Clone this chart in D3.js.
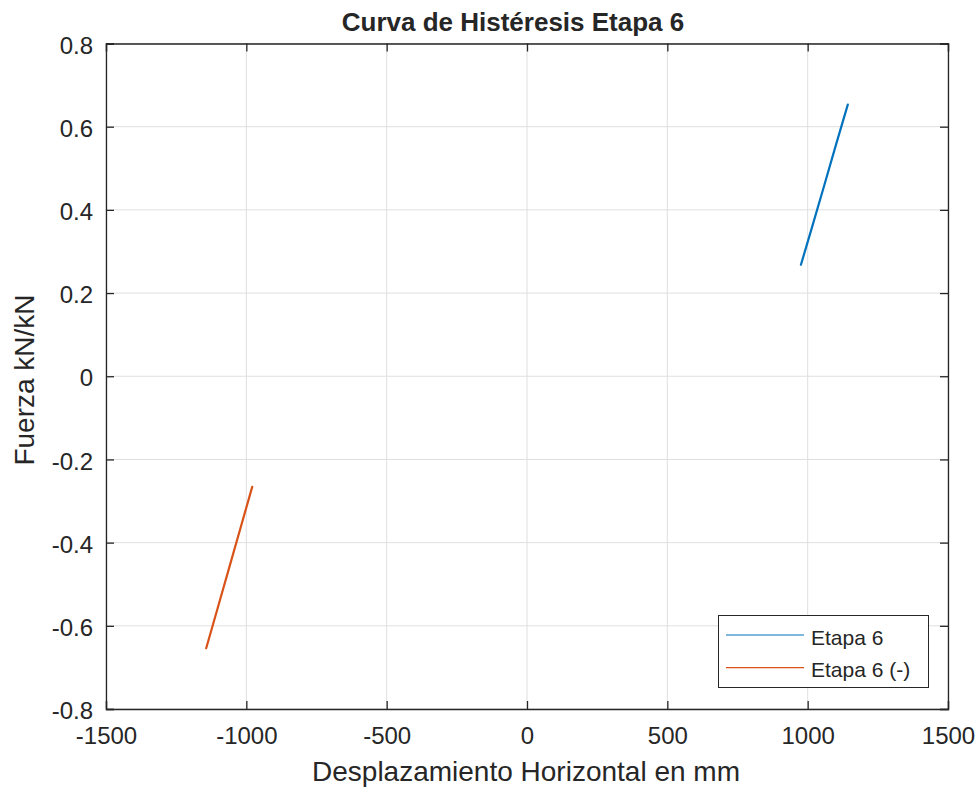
<!DOCTYPE html>
<html>
<head>
<meta charset="utf-8">
<script src="https://cdn.jsdelivr.net/npm/d3@7"></script>
<style>
  body { margin: 0; background: #fff; }
  svg { display: block; }
  text { font-family: "Liberation Sans", Arial, sans-serif; fill: #262626; }
</style>
</head>
<body>
<svg id="chart" width="980" height="791"></svg>
<script>
// ---- data ----
const seriesNames = ["Etapa 6", "Etapa 6 (-)"];
const etapa6X = [976, 1018, 1060, 1101, 1143];
const etapa6Y = [0.268, 0.364, 0.461, 0.557, 0.653];
const etapa6NegX = [-1143, -1102, -1061, -1020, -979];
const etapa6NegY = [-0.654, -0.557, -0.460, -0.363, -0.266];
const xTicks = [-1500, -1000, -500, 0, 500, 1000, 1500];
const xTickLabels = ["-1500", "-1000", "-500", "0", "500", "1000", "1500"];
const yTicks = [-0.8, -0.6, -0.4, -0.2, 0, 0.2, 0.4, 0.6, 0.8];
const yTickLabels = ["-0.8", "-0.6", "-0.4", "-0.2", "0", "0.2", "0.4", "0.6", "0.8"];
const colors = ["#0072BD", "#D95319"];

const svg = d3.select("#chart");
const L = 106, R = 948, T = 43.5, B = 709;
const x = d3.scaleLinear().domain([-1500, 1500]).range([L, R]);
const y = d3.scaleLinear().domain([-0.8, 0.8]).range([B, T]);
const axisColor = "#262626";
const font = "'Liberation Sans', Arial, sans-serif";

// grid
const g = svg.append("g");
g.selectAll(".gx").data(xTicks).enter().append("line")
  .attr("x1", d => x(d)).attr("x2", d => x(d)).attr("y1", T).attr("y2", B)
  .attr("stroke", "#dfdfdf").attr("stroke-width", 1);
g.selectAll(".gy").data(yTicks).enter().append("line")
  .attr("y1", d => y(d)).attr("y2", d => y(d)).attr("x1", L).attr("x2", R)
  .attr("stroke", "#dfdfdf").attr("stroke-width", 1);

// data lines
const line = d3.line().x(d => x(d[0])).y(d => y(d[1]));
const s1 = etapa6X.map((v, i) => [v, etapa6Y[i]]);
const s2 = etapa6NegX.map((v, i) => [v, etapa6NegY[i]]);
[s1, s2].forEach((s, i) => {
  svg.append("path").datum(s).attr("d", line)
    .attr("fill", "none").attr("stroke", colors[i]).attr("stroke-width", 2.2)
    .attr("stroke-linecap", "round");
});

// axes (ticks inward, box)
const tickLen = 8;
const axB = svg.append("g").attr("transform", `translate(0,${B})`)
  .call(d3.axisBottom(x).tickValues(xTicks).tickSize(-tickLen).tickPadding(0)
    .tickFormat((d, i) => xTickLabels[i]));
const axT = svg.append("g").attr("transform", `translate(0,${T})`)
  .call(d3.axisTop(x).tickValues(xTicks).tickSize(-tickLen).tickFormat(""));
const axL = svg.append("g").attr("transform", `translate(${L},0)`)
  .call(d3.axisLeft(y).tickValues(yTicks).tickSize(-tickLen).tickPadding(13)
    .tickFormat((d, i) => yTickLabels[i]));
const axR = svg.append("g").attr("transform", `translate(${R},0)`)
  .call(d3.axisRight(y).tickValues(yTicks).tickSize(-tickLen).tickFormat(""));
[axB, axT, axL, axR].forEach(a => {
  a.attr("font-size", null).attr("font-family", null);
  a.selectAll(".domain").attr("stroke", axisColor).attr("stroke-width", 1.3);
  a.selectAll(".tick line").attr("stroke", axisColor).attr("stroke-width", 1.3);
  a.selectAll("text").attr("fill", axisColor)
    .style("font-size", "24px").style("font-family", font);
});
axB.selectAll(".tick text").attr("y", 35).attr("dy", null);
axL.selectAll(".tick text").attr("dy", "0.4em");

// title and labels
svg.append("text").attr("x", (L + R) / 2 - 14).attr("y", 31).attr("text-anchor", "middle")
  .style("font-size", "26px").attr("font-weight", "bold").attr("fill", "#000")
  .text("Curva de Histéresis Etapa 6");
svg.append("text").attr("x", (L + R) / 2 - 1).attr("y", 781).attr("text-anchor", "middle")
  .style("font-size", "28px").text("Desplazamiento Horizontal en mm");
svg.append("text").attr("transform", `translate(34,${380}) rotate(-90)`)
  .attr("text-anchor", "middle").style("font-size", "28px").text("Fuerza kN/kN");

// legend
const lg = svg.append("g");
lg.append("rect").attr("x", 718.5).attr("y", 615.5).attr("width", 210).attr("height", 72)
  .attr("fill", "#fff").attr("stroke", axisColor).attr("stroke-width", 1);
seriesNames.forEach((n, i) => {
  const yy = 635 + i * 32.7;
  lg.append("line").attr("x1", 726).attr("x2", 804).attr("y1", yy).attr("y2", yy)
    .attr("stroke", colors[i]).attr("stroke-width", 1.2);
  lg.append("text").attr("x", 811).attr("y", yy + 9.5).style("font-size", "21px")
    .attr("fill", "#000").text(n);
});
</script>
</body>
</html>
